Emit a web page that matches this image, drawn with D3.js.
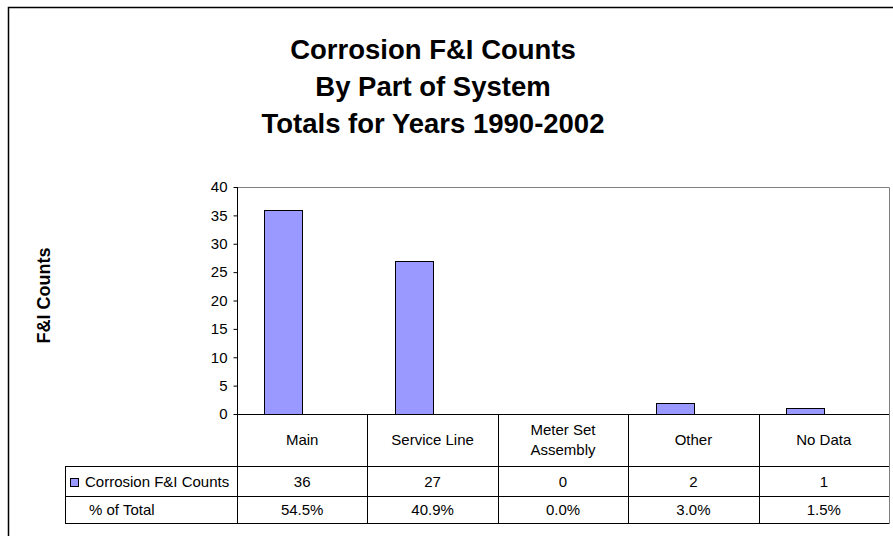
<!DOCTYPE html>
<html>
<head>
<meta charset="utf-8">
<script src="https://cdn.jsdelivr.net/npm/d3@7"></script>
<style>
  html, body { margin: 0; padding: 0; background: #fff; }
  svg { display: block; font-family: Arial, "Liberation Sans", sans-serif; }
</style>
</head>
<body>
<svg id="chart" width="893" height="536"></svg>
<script>
// Chart data
const categories = ["Main", "Service Line", "Meter Set\nAssembly", "Other", "No Data"];
const counts = [36, 27, 0, 2, 1];
const percents = ["54.5%", "40.9%", "0.0%", "3.0%", "1.5%"];
const yTicks = [0, 5, 10, 15, 20, 25, 30, 35, 40];
const seriesName = "Corrosion F&I Counts";
const rowLabelPct = "% of Total";
const titleLines = ["Corrosion F&I Counts", "By Part of System", "Totals for Years 1990-2002"];
const yTitle = "F&I Counts";

const svg = d3.select("#chart");
const barFill = "#9999FF";
const fs = 15;

// Layout
const plot = { left: 237, right: 889, top: 187, bottom: 414 };
const table = { left: 65, row1: 466, row2: 496, row3: 523 };

// Outer chart border
svg.append("rect")
  .attr("x", 8.5).attr("y", 7.5)
  .attr("width", 900).attr("height", 540)
  .attr("fill", "#fff").attr("stroke", "#000").attr("stroke-width", 1.5);

// Title
svg.append("g").selectAll("text").data(titleLines).join("text")
  .attr("x", 433).attr("y", (d, i) => 59 + i * 37)
  .attr("text-anchor", "middle")
  .attr("font-size", 27.5).attr("font-weight", "bold")
  .text(d => d);

// Scales
const x = d3.scaleBand().domain(categories).range([plot.left, plot.right]).padding(0);
const y = d3.scaleLinear().domain([0, 40]).range([plot.bottom, plot.top]);
const bw = x.bandwidth();
const barW = bw * 0.29;

// Plot frame (top / right in grey)
svg.append("path")
  .attr("d", `M${plot.left},${plot.top + 0.5}H${plot.right + 0.5}V${plot.bottom}`)
  .attr("fill", "none").attr("stroke", "#808080").attr("stroke-width", 1);

// Bars
svg.append("g").selectAll("rect").data(categories).join("rect")
  .attr("x", (d) => Math.round(x(d) + bw / 2 - barW) + 0.5)
  .attr("y", (d, i) => Math.round(y(counts[i])) + 0.5)
  .attr("width", Math.round(barW))
  .attr("height", (d, i) => Math.round(y(0)) - Math.round(y(counts[i])))
  .attr("fill", barFill).attr("stroke", "#000").attr("stroke-width", 1)
  .attr("display", (d, i) => counts[i] > 0 ? null : "none");

// Y axis
const yAxis = d3.axisLeft(y).tickValues(yTicks).tickSize(4).tickPadding(6);
const gy = svg.append("g").attr("transform", `translate(${plot.left + 0.5},0)`).call(yAxis);
gy.select(".domain").attr("stroke", "#000").attr("d", `M0,${plot.top}V${plot.bottom}`);
gy.selectAll(".tick line").attr("stroke", "#000");
gy.selectAll(".tick text").attr("font-size", fs).attr("fill", "#000")
  .attr("font-family", "Arial, 'Liberation Sans', sans-serif");

// Y axis title
svg.append("text")
  .attr("transform", `translate(50,${(plot.top + plot.bottom) / 2 - 5}) rotate(-90)`)
  .attr("text-anchor", "middle")
  .attr("font-size", 18).attr("font-weight", "bold")
  .text(yTitle);

// Data table grid
const grid = svg.append("g").attr("stroke", "#000").attr("stroke-width", 1).attr("fill", "none");
grid.append("line").attr("x1", plot.left).attr("x2", plot.right + 0.5)
  .attr("y1", plot.bottom + 0.5).attr("y2", plot.bottom + 0.5);
[table.row1, table.row2, table.row3].forEach(r => {
  grid.append("line").attr("x1", table.left).attr("x2", plot.right + 0.5)
    .attr("y1", r + 0.5).attr("y2", r + 0.5);
});
grid.append("line").attr("x1", table.left + 0.5).attr("x2", table.left + 0.5)
  .attr("y1", table.row1).attr("y2", table.row3 + 0.5);
categories.forEach(c => {
  grid.append("line").attr("x1", Math.round(x(c)) + 0.5).attr("x2", Math.round(x(c)) + 0.5)
    .attr("y1", plot.bottom).attr("y2", table.row3 + 0.5);
});
grid.append("line").attr("x1", plot.right + 0.5).attr("x2", plot.right + 0.5)
  .attr("y1", plot.bottom).attr("y2", table.row3 + 0.5).attr("stroke", "#808080");

// Category header row
const hdr = svg.append("g").attr("font-size", fs).attr("text-anchor", "middle");
categories.forEach(c => {
  const lines = c.split("\n");
  const cy = (plot.bottom + table.row1) / 2 + 5;
  lines.forEach((ln, j) => {
    hdr.append("text")
      .attr("x", x(c) + bw / 2)
      .attr("y", cy + (j - (lines.length - 1) / 2) * 20)
      .text(ln);
  });
});

// Value rows
const rows = svg.append("g").attr("font-size", fs).attr("text-anchor", "middle");
categories.forEach((c, i) => {
  rows.append("text").attr("x", x(c) + bw / 2).attr("y", (table.row1 + table.row2) / 2 + 5.5).text(counts[i]);
  rows.append("text").attr("x", x(c) + bw / 2).attr("y", (table.row2 + table.row3) / 2 + 5.5).text(percents[i]);
});

// Row labels with legend key
svg.append("rect").attr("x", 70.5).attr("y", 478.5).attr("width", 8).attr("height", 8)
  .attr("fill", barFill).attr("stroke", "#000").attr("stroke-width", 1);
svg.append("text").attr("x", 85).attr("y", (table.row1 + table.row2) / 2 + 5.5)
  .attr("font-size", fs).text(seriesName);
svg.append("text").attr("x", 89).attr("y", (table.row2 + table.row3) / 2 + 5.5)
  .attr("font-size", fs).text(rowLabelPct);
</script>
</body>
</html>
